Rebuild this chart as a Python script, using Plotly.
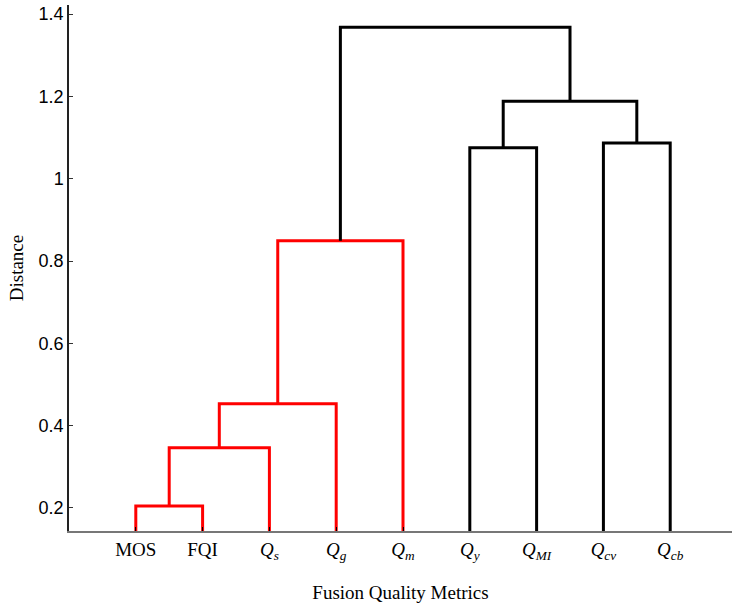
import plotly.graph_objects as go

# Leaf labels in dendrogram order
leaf_labels = ["MOS", "FQI", "<i>Q</i><sub><i>s</i></sub>", "<i>Q</i><sub><i>g</i></sub>",
               "<i>Q</i><sub><i>m</i></sub>", "<i>Q</i><sub><i>y</i></sub>",
               "<i>Q</i><sub><i>MI</i></sub>", "<i>Q</i><sub><i>cv</i></sub>",
               "<i>Q</i><sub><i>cb</i></sub>"]

# Linkage: (left node, right node, merge distance); leaves are 0..8, new clusters 9..
merge_left = [0, 9, 10, 11, 5, 7, 13, 12]
merge_right = [1, 2, 3, 4, 6, 8, 14, 15]
merge_height = [0.205, 0.346, 0.453, 0.849, 1.075, 1.087, 1.188, 1.368]
# Colour of each link (red group below the threshold, black above)
merge_color = ["#ff0000", "#ff0000", "#ff0000", "#ff0000",
               "#000000", "#000000", "#000000", "#000000"]

n = len(leaf_labels)
pos = {i: float(i + 1) for i in range(n)}
height = {i: 0.0 for i in range(n)}

fig = go.Figure()
for k, (a, b, h, c) in enumerate(zip(merge_left, merge_right, merge_height, merge_color)):
    xa, xb = pos[a], pos[b]
    ya, yb = height[a], height[b]
    fig.add_trace(go.Scatter(
        x=[xa, xa, xb, xb], y=[ya, h, h, yb], mode="lines",
        line=dict(color=c, width=3), hoverinfo="skip", showlegend=False,
        cliponaxis=True))
    node = n + k
    pos[node] = (xa + xb) / 2
    height[node] = h

fig.update_layout(
    width=732, height=605,
    margin=dict(l=69, r=0, t=5, b=74),
    plot_bgcolor="white", paper_bgcolor="white",
    showlegend=False,
    xaxis=dict(
        range=[0, 9.925], tickmode="array",
        tickvals=list(range(1, n + 1)), ticktext=leaf_labels,
        ticks="inside", ticklen=4, tickcolor="#000000", tickwidth=1,
        showline=True, linecolor="#777777", linewidth=2,
        showgrid=False, zeroline=False,
        tickfont=dict(family="Liberation Serif, serif", size=19, color="#000"),
        title=dict(text="Fusion Quality Metrics", standoff=24,
                   font=dict(family="Liberation Serif, serif", size=19, color="#000")),
    ),
    yaxis=dict(
        range=[0.144, 1.422], tickmode="array",
        tickvals=[0.2, 0.4, 0.6, 0.8, 1.0, 1.2, 1.4],
        ticktext=["0.2", "0.4", "0.6", "0.8", "1", "1.2", "1.4"],
        ticks="inside", ticklen=4, tickcolor="#333333", tickwidth=1,
        showline=True, linecolor="#222222", linewidth=1.5,
        showgrid=False, zeroline=False,
        tickfont=dict(family="Liberation Sans, Arial, sans-serif", size=18, color="#000"),
        title=dict(text="Distance", standoff=10,
                   font=dict(family="Liberation Serif, serif", size=19, color="#000")),
    ),
)

fig.write_html("out.html")
